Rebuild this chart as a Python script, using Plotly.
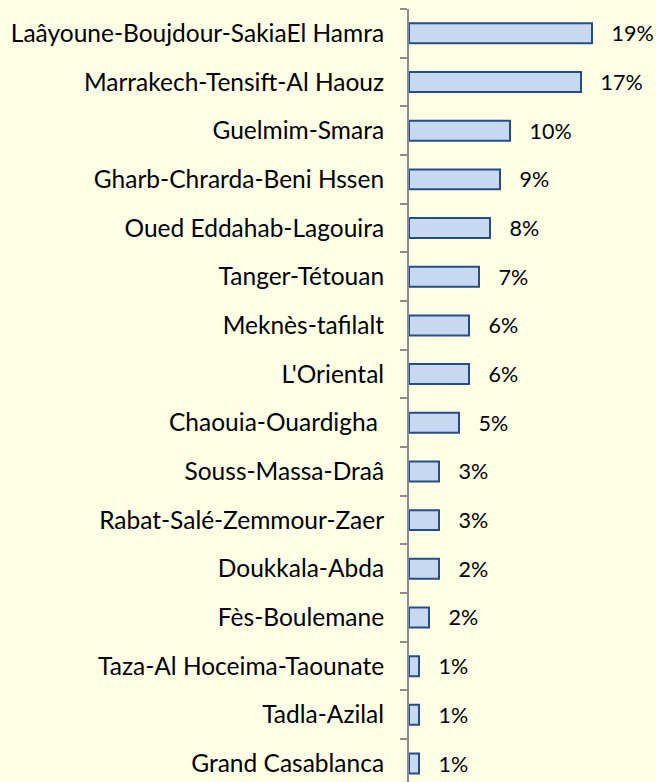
import plotly.graph_objects as go

# regions, top to bottom
regions = [
    "Laâyoune-Boujdour-SakiaEl Hamra",
    "Marrakech-Tensift-Al Haouz",
    "Guelmim-Smara",
    "Gharb-Chrarda-Beni Hssen",
    "Oued Eddahab-Lagouira",
    "Tanger-Tétouan",
    "Meknès-tafilalt",
    "L'Oriental",
    "Chaouia-Ouardigha ",
    "Souss-Massa-Draâ",
    "Rabat-Salé-Zemmour-Zaer",
    "Doukkala-Abda",
    "Fès-Boulemane",
    "Taza-Al Hoceima-Taounate",
    "Tadla-Azilal",
    "Grand Casablanca",
]
# bar lengths as drawn
share = [18.3, 17.2, 10.1, 9.1, 8.1, 7.0, 6.0, 6.0, 5.0, 3.0, 3.0, 3.0, 2.0, 1.0, 1.0, 1.0]
# data labels as printed
labels = ["19%", "17%", "10%", "9%", "8%", "7%", "6%", "6%", "5%", "3%", "3%", "2%", "2%", "1%", "1%", "1%"]

FONT = "Lato"
SIZE = 24.5

fig = go.Figure(go.Bar(
    x=share, y=regions, orientation="h",
    width=0.41,
    marker=dict(color="#C6D9F1", line=dict(color="#254E86", width=2)),
    text=["\u00a0\u00a0\u00a0" + t for t in labels],
    textposition="outside",
    constraintext="none",
    textfont=dict(family=FONT, size=21.5, color="black"),
    cliponaxis=False,
))

fig.update_layout(
    width=656, height=782,
    margin=dict(l=409, r=7, t=9, b=0),
    paper_bgcolor="#FFFFE6",
    plot_bgcolor="#FFFFE6",
    showlegend=False,
    font=dict(family=FONT, size=SIZE, color="black"),
)
fig.update_xaxes(range=[0, 24], visible=False)
fig.update_yaxes(
    type="category", range=[15.38, -0.5],
    showline=True, linecolor="#8C8C8C", linewidth=2,
    ticks="outside", tickson="boundaries", ticklen=7, tickcolor="#8C8C8C", tickwidth=2,
    ticklabelstandoff=18,
    showgrid=False, automargin=False,
    tickfont=dict(family=FONT, size=SIZE, color="black"),
)

fig.write_html("out.html", config={"displayModeBar": False},
               post_script="document.body.style.margin='0';")
